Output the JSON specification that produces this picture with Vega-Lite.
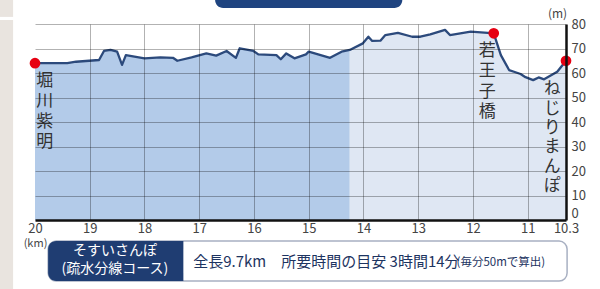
{
  "$schema": "https://vega.github.io/schema/vega-lite/v6.json",
  "width": 531,
  "height": 196,
  "autosize": {"type": "none"},
  "padding": {"left": 35, "top": 24, "right": 34, "bottom": 69},
  "background": "#ffffff",
  "config": {
    "view": {"stroke": null},
    "font": "Noto Sans CJK JP",
    "axis": {"labelFont": "Noto Sans CJK JP", "titleFont": "Noto Sans CJK JP"}
  },
  "datasets": {
    "profile": [
      {"km": 20.0, "elev": 64.0}, {"km": 19.41, "elev": 64.0}, {"km": 19.25, "elev": 64.6},
      {"km": 18.83, "elev": 65.3}, {"km": 18.74, "elev": 69.0}, {"km": 18.62, "elev": 69.4},
      {"km": 18.5, "elev": 68.7}, {"km": 18.41, "elev": 63.3}, {"km": 18.34, "elev": 67.3},
      {"km": 18.0, "elev": 66.0}, {"km": 17.71, "elev": 66.4}, {"km": 17.48, "elev": 66.2},
      {"km": 17.4, "elev": 65.0}, {"km": 17.14, "elev": 66.4}, {"km": 16.87, "elev": 68.0},
      {"km": 16.69, "elev": 67.1}, {"km": 16.5, "elev": 69.0}, {"km": 16.33, "elev": 66.2},
      {"km": 16.26, "elev": 70.1}, {"km": 16.01, "elev": 69.0}, {"km": 15.92, "elev": 67.6},
      {"km": 15.59, "elev": 67.3}, {"km": 15.51, "elev": 65.6}, {"km": 15.41, "elev": 68.0},
      {"km": 15.26, "elev": 66.0}, {"km": 15.05, "elev": 67.6}, {"km": 15.0, "elev": 68.7},
      {"km": 14.61, "elev": 66.2}, {"km": 14.4, "elev": 68.7}, {"km": 14.25, "elev": 69.4},
      {"km": 14.01, "elev": 72.1}, {"km": 13.91, "elev": 74.8}, {"km": 13.84, "elev": 73.1},
      {"km": 13.69, "elev": 73.2}, {"km": 13.6, "elev": 75.5}, {"km": 13.37, "elev": 76.4},
      {"km": 13.11, "elev": 74.8}, {"km": 12.96, "elev": 74.8}, {"km": 12.78, "elev": 75.8},
      {"km": 12.51, "elev": 77.6}, {"km": 12.42, "elev": 75.5}, {"km": 12.04, "elev": 76.9},
      {"km": 11.73, "elev": 76.4}, {"km": 11.62, "elev": 76.2}, {"km": 11.49, "elev": 67.3},
      {"km": 11.34, "elev": 61.2}, {"km": 11.25, "elev": 60.5}, {"km": 11.13, "elev": 59.6},
      {"km": 11.04, "elev": 58.3}, {"km": 10.9, "elev": 57.1}, {"km": 10.8, "elev": 58.2},
      {"km": 10.7, "elev": 57.4}, {"km": 10.46, "elev": 60.5}, {"km": 10.3, "elev": 65.0}
    ],
    "stations": [
      {"km": 20.0, "elev": 64.0, "name": "堀川紫明"},
      {"km": 11.62, "elev": 76.2, "name": "若王子橋"},
      {"km": 10.3, "elev": 65.0, "name": "ねじりまんぽ"}
    ],
    "labels": [
      {"km": 19.82, "elev": 60.2, "text": "堀\n川\n紫\n明"},
      {"km": 11.74, "elev": 72.4, "text": "若\n王\n子\n橋"}
    ],
    "labels2": [
      {"km": 10.55, "elev": 56.6, "text": "ね\nじ\nり\nま\nん\nぽ"}
    ],
    "strip": [
      {"km": 20.64, "km2": 20.4, "elev": 89.8, "elev2": 82.9},
      {"km": 20.64, "km2": 20.4, "elev": 81.6, "elev2": -28.2}
    ],
    "banner": [
      {"km": 16.71, "km2": 13.29, "elev": 86.5, "elev2": 100}
    ],
    "box": [
      {"km": 19.76, "km2": 10.28, "elev": -8.6, "elev2": -24.9}
    ],
    "boxhead": [
      {"km": 19.76, "km2": 17.29, "elev": -8.6, "elev2": -24.9}
    ],
    "boxheadtext": [
      {"km": 18.54, "elev": -12.8, "text": "そすいさんぽ"},
      {"km": 18.54, "elev": -20.2, "text": "(疏水分線コース)"}
    ],
    "boxtext": [
      {"km": 17.11, "elev": -17.1, "text": "全長9.7km　所要時間の目安 3時間14分"}
    ],
    "boxnote": [
      {"km": 12.3, "elev": -17.4, "text": "(毎分50mで算出)"}
    ]
  },
  "encoding": {
    "x": {
      "field": "km", "type": "quantitative",
      "scale": {"domain": [20, 10.3], "nice": false, "zero": false},
      "axis": {
        "values": [20, 19, 18, 17, 16, 15, 14, 13, 12, 11, 10.3],
        "labelExpr": "datum.value == 10.3 ? '10.3' : format(datum.value, 'd')",
        "title": "(km)",
        "grid": true,
        "gridColor": "#000000",
        "gridOpacity": {"condition": {"test": "datum.value == 20 || datum.value == 10.3", "value": 0}, "value": 0.3},
        "domainColor": "#111111",
        "domainWidth": 2.5,
        "ticks": false,
        "labelFontSize": 13,
        "labelColor": "#444444",
        "labelPadding": 2,
        "labelFlush": false,
        "labelOverlap": false,
        "titleFontSize": 11,
        "titleFontWeight": "normal",
        "titleColor": "#444444",
        "titleAnchor": "start",
        "titleAlign": "center",
        "titlePadding": 2,
        "zindex": 1
      }
    },
    "y": {
      "field": "elev", "type": "quantitative",
      "scale": {"domain": [0, 80], "nice": false, "zero": false},
      "axis": {
        "orient": "right",
        "values": [0, 10, 20, 30, 40, 50, 60, 70, 80],
        "title": "(m)",
        "titleAngle": 0,
        "titleX": -9,
        "titleY": -11,
        "titleAlign": "center",
        "titleBaseline": "middle",
        "titleFontSize": 12,
        "titleFontWeight": "normal",
        "titleColor": "#444444",
        "grid": true,
        "gridColor": "#000000",
        "gridOpacity": 0.3,
        "domainColor": "#111111",
        "domainWidth": 2.5,
        "ticks": false,
        "labelPadding": 5,
        "labelFontSize": 13,
        "labelColor": "#444444",
        "labelFlush": false,
        "labelAlign": "left",
        "labelBaseline": {"condition": {"test": "datum.value == 0", "value": "bottom"}, "value": "middle"},
        "zindex": 1
      }
    }
  },
  "layer": [
    {
      "data": {"name": "strip"},
      "mark": {"type": "rect", "color": "#e9e4df"},
      "encoding": {"x2": {"field": "km2"}, "y2": {"field": "elev2"}}
    },
    {
      "data": {"name": "banner"},
      "mark": {"type": "rect", "color": "#1f4480", "cornerRadius": 8},
      "encoding": {"x2": {"field": "km2"}, "y2": {"field": "elev2"}}
    },
    {
      "data": {"name": "profile"},
      "transform": [{"filter": "datum.km >= 14.25"}],
      "mark": {"type": "area", "color": "#b3cbe9", "opacity": 1},
      "encoding": {}
    },
    {
      "data": {"name": "profile"},
      "transform": [{"filter": "datum.km <= 14.25"}],
      "mark": {"type": "area", "color": "#dfe7f3", "opacity": 1},
      "encoding": {}
    },
    {
      "data": {"name": "profile"},
      "mark": {"type": "line", "color": "#2c4a7c", "strokeWidth": 2.3, "strokeJoin": "round"},
      "encoding": {}
    },
    {
      "data": {"name": "stations"},
      "mark": {"type": "point", "filled": true, "color": "#e60012", "size": 115, "opacity": 1},
      "encoding": {}
    },
    {
      "data": {"name": "labels"},
      "mark": {"type": "text", "lineBreak": "\n", "lineHeight": 20.5, "fontSize": 17, "align": "center", "baseline": "top", "color": "#333333"},
      "encoding": {"text": {"field": "text"}}
    },
    {
      "data": {"name": "labels2"},
      "mark": {"type": "text", "lineBreak": "\n", "lineHeight": 19.3, "fontSize": 16.5, "align": "center", "baseline": "top", "color": "#333333"},
      "encoding": {"text": {"field": "text"}}
    },
    {
      "data": {"name": "box"},
      "mark": {"type": "rect", "fill": "#ffffff", "stroke": "#a8b0c2", "strokeWidth": 1.5, "cornerRadius": 8},
      "encoding": {"x2": {"field": "km2"}, "y2": {"field": "elev2"}}
    },
    {
      "data": {"name": "boxhead"},
      "mark": {"type": "rect", "color": "#1f3d72", "cornerRadiusTopLeft": 8, "cornerRadiusBottomLeft": 8},
      "encoding": {"x2": {"field": "km2"}, "y2": {"field": "elev2"}}
    },
    {
      "data": {"name": "boxheadtext"},
      "mark": {"type": "text", "fontSize": 14, "align": "center", "baseline": "middle", "color": "#ffffff"},
      "encoding": {"text": {"field": "text"}}
    },
    {
      "data": {"name": "boxtext"},
      "mark": {"type": "text", "fontSize": 15, "align": "left", "baseline": "middle", "color": "#1d3461"},
      "encoding": {"text": {"field": "text"}}
    },
    {
      "data": {"name": "boxnote"},
      "mark": {"type": "text", "fontSize": 11.5, "align": "left", "baseline": "middle", "color": "#1d3461"},
      "encoding": {"text": {"field": "text"}}
    }
  ]
}
